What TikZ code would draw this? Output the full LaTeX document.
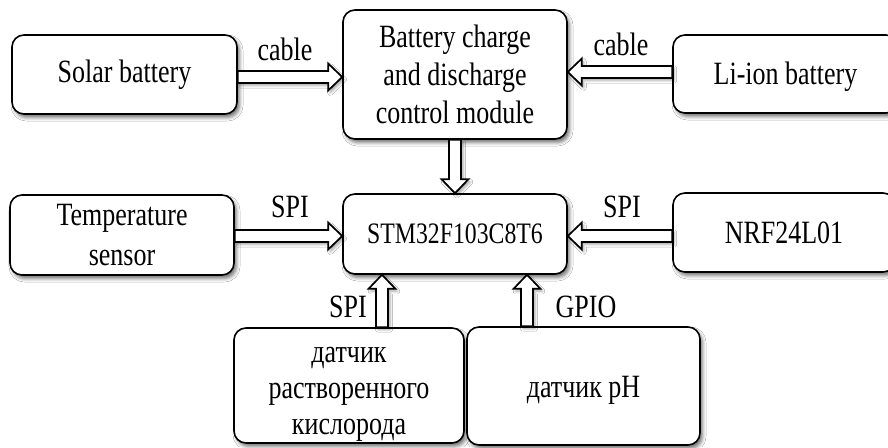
\documentclass[tikz,border=0pt]{standalone}
\usepackage{fontspec}
\setmainfont[FakeStretch=0.8]{Liberation Serif}
\usetikzlibrary{calc,shadows.blur}
\begin{document}
\begin{tikzpicture}[x=1pt,y=-1pt,
  txt/.style={font=\fontsize{32.5}{38}\selectfont},
  box/.style={txt, draw=black, line width=1.6pt, rounded corners=12pt, fill=white,
    align=center, inner sep=0pt,
    blur shadow={shadow xshift=2.5pt, shadow yshift=-3.5pt, shadow blur radius=3.5pt, shadow opacity=55}},
  lbl/.style={txt, anchor=base, inner sep=0pt},
  blockarrow/.style={fill=white, draw=black, line width=1.7pt, line join=miter,
    blur shadow={shadow xshift=2pt, shadow yshift=-2.5pt, shadow blur radius=2.5pt, shadow opacity=35},
    to path={
      -- ($(\tikztostart)!6pt!90:(\tikztotarget)$)
      -- ($($(\tikztotarget)!14pt!(\tikztostart)$)!6pt!90:(\tikztotarget)$)
      -- ($($(\tikztotarget)!14pt!(\tikztostart)$)!13.5pt!90:(\tikztotarget)$)
      -- (\tikztotarget)
      -- ($($(\tikztotarget)!14pt!(\tikztostart)$)!13.5pt!-90:(\tikztotarget)$)
      -- ($($(\tikztotarget)!14pt!(\tikztostart)$)!6pt!-90:(\tikztotarget)$)
      -- ($(\tikztostart)!6pt!-90:(\tikztotarget)$)
      -- cycle}}
]
\useasboundingbox (0,0) rectangle (888,447);
\fill[white] (0,0) rectangle (888,447);

% boxes
\node[box, minimum width=225pt, minimum height=79pt] (sol) at (124.5,74.5) {Solar battery};
\node[box, minimum width=224pt, minimum height=129pt] (bat) at (455,74.5) {Battery charge\\and discharge\\control module};
\node[box, minimum width=225pt, minimum height=78pt] (li) at (785.5,74) {};
\node[txt] (lit) at ([yshift=-3pt]li.center) {Li-ion battery};
\node[box, minimum width=224pt, minimum height=80pt, font=\fontsize{32.5}{40}\selectfont] (temp) at (122,235) {Temperature\\sensor};
\node[box, minimum width=224pt, minimum height=80pt, font=\fontsize{29.7}{34}\selectfont] (stm) at (455,234) {STM32F103C8T6};
\node[box, minimum width=222pt, minimum height=79pt] (nrf) at (784,232.5) {NRF24L01};
\node[box, minimum width=230pt, minimum height=115pt] (oxy) at (349,385.5) {};
\node[txt, align=center, font=\fontsize{32.5}{36}\selectfont] (oxyt) at ([yshift=-9pt]oxy.center) {датчик\\растворенного\\кислорода};
\node[box, minimum width=233pt, minimum height=118pt] (ph) at (583.5,386) {};
\node[txt] (pht) at ([yshift=-4pt]ph.center) {датчик pH};

% arrow end points
\coordinate (s1) at ([yshift=-2.5pt]sol.east);
\coordinate (e1) at (s1 -| bat.west);
\coordinate (s2) at ([yshift=2pt]li.west);
\coordinate (e2) at (s2 -| bat.east);
\coordinate (s4) at ([yshift=-1pt]temp.east);
\coordinate (e4) at (s4 -| stm.west);
\coordinate (s5) at ([yshift=-3.5pt]nrf.west);
\coordinate (e5) at (s5 -| stm.east);
\coordinate (s6) at ([xshift=33pt]oxy.north);
\coordinate (e6) at (s6 |- stm.south);
\coordinate (s7) at ([xshift=-56.5pt]ph.north);
\coordinate (e7) at (s7 |- stm.south);

% arrows
\draw[blockarrow] (s1) to (e1);
\draw[blockarrow] (s2) to (e2);
\draw[blockarrow] (bat.south) to (stm.north);
\draw[blockarrow] (s4) to (e4);
\draw[blockarrow] (s5) to (e5);
\draw[blockarrow] (s6) to (e6);
\draw[blockarrow] (s7) to (e7);

% labels
\node[lbl] (l1) at (285,60) {cable};
\node[lbl] (l2) at (621,55) {cable};
\node[lbl] (l3) at (290,217) {SPI};
\node[lbl] (l4) at (622,217) {SPI};
\node[lbl] (l5) at (348,317) {SPI};
\node[lbl] (l6) at (586,317) {GPIO};
\end{tikzpicture}
\end{document}
